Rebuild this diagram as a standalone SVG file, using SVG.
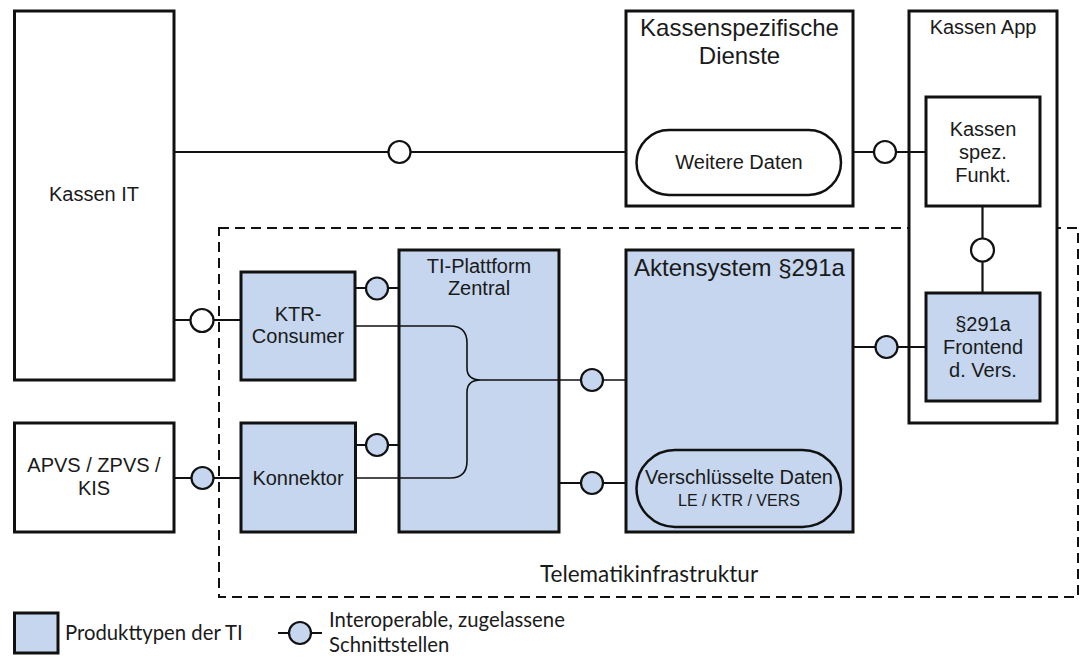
<svg xmlns="http://www.w3.org/2000/svg" width="1084" height="659" viewBox="0 0 1084 659">
<style>
.box{fill:#fff;stroke:#111;stroke-width:3}
.ti{fill:#c5d6ee;stroke:#111;stroke-width:3}
.pill{fill:#fff;stroke:#111;stroke-width:2.5}
.pillb{fill:#c5d6ee;stroke:#111;stroke-width:2.5}
.ln{fill:none;stroke:#111;stroke-width:2.2}
.thin{fill:none;stroke:#111;stroke-width:1.6}
.ow{fill:#fff;stroke:#111;stroke-width:2.2}
.ob{fill:#c5d6ee;stroke:#111;stroke-width:2.2}
.dash{fill:none;stroke:#111;stroke-width:2;stroke-dasharray:10 6}
text{font-family:"Liberation Sans",Arial,sans-serif;fill:#1a1a1a;text-anchor:middle}
.t20{font-size:20px}
.t24{font-size:24px}
.cal{font-family:Lato,"Open Sans",sans-serif;font-size:20.3px;text-anchor:start}
</style>
<g id="telematik">
<rect class="dash" x="219" y="228" width="859" height="369"/>
<text class="cal" style="font-size:22.5px" x="540" y="582">Telematikinfrastruktur</text>
</g>
<g id="kassen-app">
<rect class="box" x="909" y="11" width="148" height="412"/>
<text class="t20" x="983" y="34">Kassen App</text>
</g>
<g id="connectors">
<line class="ln" x1="174" y1="152" x2="626" y2="152"/>
<line class="ln" x1="853" y1="152" x2="925" y2="152"/>
<line class="ln" x1="982.5" y1="206" x2="982.5" y2="293"/>
<line class="ln" x1="853" y1="347" x2="926" y2="347"/>
<line class="ln" x1="174" y1="320" x2="241" y2="320"/>
<line class="ln" x1="174" y1="478" x2="241" y2="478"/>
<line class="ln" x1="355" y1="288" x2="399" y2="288"/>
<line class="ln" x1="355" y1="445" x2="399" y2="445"/>
<line class="ln" x1="559" y1="483" x2="626" y2="483"/>
<path class="thin" d="M355,326 H450 Q467,326 467,343 V368 Q467,380 481,380 H626"/>
<path class="thin" d="M355,478 H450 Q467,478 467,461 V392 Q467,380 481,380"/>
</g>
<g id="kassen-it">
<rect class="box" x="14.5" y="11" width="159.5" height="369"/>
<text class="t20" x="94" y="201">Kassen IT</text>
</g>
<g id="apvs">
<rect class="box" x="14.5" y="423" width="159.5" height="109"/>
<text class="t20" x="94" y="472">APVS / ZPVS /</text>
<text class="t20" x="94" y="495">KIS</text>
</g>
<g id="kassenspez-dienste">
<rect class="box" x="626" y="11" width="227" height="195"/>
<text class="t24" x="739.5" y="36">Kassenspezifische</text>
<text class="t24" x="739.5" y="64">Dienste</text>
<rect class="pill" x="636.5" y="130" width="204.5" height="65" rx="32.5"/>
<text class="t20" x="739" y="169">Weitere Daten</text>
</g>
<g id="kassen-spez-funkt">
<rect class="box" x="926" y="97" width="114" height="109"/>
<text class="t20" x="983" y="136">Kassen</text>
<text class="t20" x="983" y="159">spez.</text>
<text class="t20" x="983" y="182">Funkt.</text>
</g>
<g id="frontend">
<rect class="ti" x="926" y="293" width="114" height="108"/>
<text class="t20" x="983" y="331">§291a</text>
<text class="t20" x="983" y="354">Frontend</text>
<text class="t20" x="983" y="377">d. Vers.</text>
</g>
<g id="ktr-consumer">
<rect class="ti" x="241" y="272" width="114" height="108"/>
<text class="t20" x="298" y="321">KTR-</text>
<text class="t20" x="298" y="343">Consumer</text>
</g>
<g id="konnektor">
<rect class="ti" x="241" y="423" width="114.5" height="109"/>
<text class="t20" x="298" y="485">Konnektor</text>
</g>
<g id="ti-plattform">
<rect class="ti" x="399" y="250" width="160" height="282"/>
<text class="t20" x="479" y="273">TI-Plattform</text>
<text class="t20" x="479" y="295">Zentral</text>
</g>
<path class="thin" d="M399,326 H450 Q467,326 467,343 V368 Q467,380 481,380 H559 M399,478 H450 Q467,478 467,461 V392 Q467,380 481,380"/>
<g id="aktensystem">
<rect class="ti" x="626" y="250" width="227" height="282"/>
<text class="t24" x="739.5" y="276">Aktensystem §291a</text>
<rect class="pillb" x="636.5" y="450" width="204.5" height="77" rx="38.5"/>
<text class="t20" x="739" y="484">Verschlüsselte Daten</text>
<text style="font-size:16px" x="739" y="506">LE / KTR / VERS</text>
</g>
<g id="interfaces">
<circle class="ow" cx="399.5" cy="152" r="11"/>
<circle class="ow" cx="885" cy="152" r="11"/>
<circle class="ow" cx="982.5" cy="250" r="11.5"/>
<circle class="ob" cx="886.5" cy="347" r="11"/>
<circle class="ow" cx="202" cy="320.5" r="11.5"/>
<circle class="ob" cx="202.5" cy="478" r="11"/>
<circle class="ob" cx="377" cy="288.5" r="11"/>
<circle class="ob" cx="377" cy="445" r="11"/>
<circle class="ob" cx="592" cy="380" r="11"/>
<circle class="ob" cx="592" cy="483" r="11"/>
</g>
<g id="legend">
<rect class="ti" x="14.5" y="613" width="43.5" height="40"/>
<text class="cal" x="65" y="640">Produkttypen der TI</text>
<line class="ln" x1="278" y1="633" x2="322" y2="633"/>
<circle class="ob" cx="300" cy="633" r="11"/>
<text class="cal" x="329" y="627">Interoperable, zugelassene</text>
<text class="cal" x="329" y="652">Schnittstellen</text>
</g>
</svg>
